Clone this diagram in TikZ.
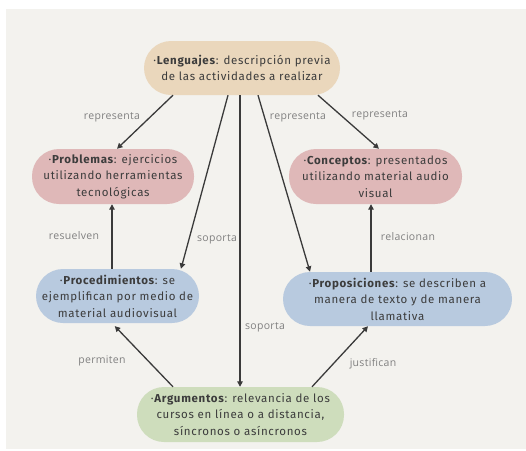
\documentclass[tikz,border=0pt]{standalone}
\usepackage{fontspec}
\setmainfont{Fira Sans}[LetterSpace=6]
\newfontfamily\labelfont{Open Sans}[LetterSpace=3]
\usetikzlibrary{arrows.meta}
\definecolor{fondo}{HTML}{F3F2EE}
\definecolor{colleng}{HTML}{EAD7BC}
\definecolor{colrosa}{HTML}{DFB8B8}
\definecolor{colazul}{HTML}{B8CADF}
\definecolor{colverde}{HTML}{CEDDBC}
\definecolor{textonodo}{HTML}{3C3C3C}
\definecolor{linea}{HTML}{3A3A3A}
\definecolor{gristexto}{HTML}{808080}

\begin{document}
\begin{tikzpicture}[x=1pt, y=-1pt,
	concepto/.style={rounded corners=27pt, minimum height=54pt, align=center, inner sep=0pt,
		text=textonodo, font=\fontsize{11.5}{16.5}\selectfont},
	enlace/.style={draw=linea, line width=1.3pt, -{Triangle[length=5.5pt,width=5.5pt]}},
	etiqueta/.style={text=gristexto, font=\labelfont\fontsize{10.5}{12}\selectfont}]
			\fill[white] (0, 0) rectangle (526, 450);
			\fill[fondo] (6, 9) rectangle (526, 449);

			\node[concepto, fill=colleng, minimum width=196pt] (leng) at (242, 68)
				{·\textbf{Lenguajes}: descripción previa\\de las actividades a realizar};
			\node[concepto, fill=colrosa, minimum width=162pt, minimum height=55pt] (prob) at (113, 176.5)
				{·\textbf{Problemas}: ejercicios\\utilizando herramientas\\tecnológicas};
			\node[concepto, fill=colrosa, minimum width=173pt, minimum height=55pt] (conc) at (375.5, 176.5)
				{·\textbf{Conceptos}: presentados\\utilizando material audio\\visual};
			\node[concepto, fill=colazul, minimum width=163pt] (proc) at (117.5, 296)
				{·\textbf{Procedimientos}: se\\ejemplifican por medio de\\material audiovisual};
			\node[concepto, fill=colazul, minimum width=229pt] (prop) at (397.5, 299)
				{·\textbf{Proposiciones}: se describen a\\manera de texto y de manera\\llamativa};
			\node[concepto, fill=colverde, minimum width=207pt, minimum height=55pt] (arg) at (240.5, 414.5)
				{·\textbf{Argumentos}: relevancia de los\\cursos en línea o a distancia,\\síncronos o asíncronos};

			\draw[enlace] ([xshift=-69pt]leng.south) -- ([xshift=4pt]prob.north);
			\draw[enlace] ([xshift=-14pt]leng.south) -- ([xshift=63.5pt]proc.north);
			\draw[enlace] ([xshift=-2pt]leng.south) -- ([xshift=-0.5pt]arg.north);
			\draw[enlace] ([xshift=16pt]leng.south) -- ([xshift=-87.5pt]prop.north);
			\draw[enlace] ([xshift=76pt]leng.south) -- ([xshift=3.5pt]conc.north);
			\draw[enlace] ([xshift=-5.5pt]proc.north) -- ([xshift=-1pt]prob.south);
			\draw[enlace] ([xshift=-26.5pt]prop.north) -- ([xshift=-4.5pt]conc.south);
			\draw[enlace, shorten >=4pt] ([xshift=-67.5pt]arg.north) -- ([xshift=-5.5pt]proc.south);
			\draw[enlace] ([xshift=71.5pt]arg.north) -- ([xshift=-29.5pt]prop.south);

			\node[etiqueta] (e1) at (112, 117) {representa};
			\node[etiqueta] (e2) at (217, 239) {soporta};
			\node[etiqueta] (e3) at (265, 327) {soporta};
			\node[etiqueta] (e4) at (298, 117) {representa};
			\node[etiqueta] (e5) at (380, 115) {representa};
			\node[etiqueta] (e6) at (74, 236) {resuelven};
			\node[etiqueta] (e7) at (408, 237) {relacionan};
			\node[etiqueta] (e8) at (102, 361) {permiten};
			\node[etiqueta] (e9) at (373, 364) {justifican};
		\end{tikzpicture}
\end{document}
